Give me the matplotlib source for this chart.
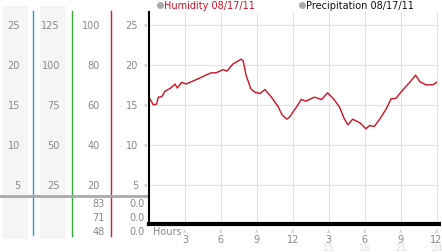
import matplotlib
matplotlib.use('agg')
import matplotlib.pyplot as plt
import matplotlib.transforms as mtransforms
import numpy as np

# humidity trace, hours since midnight vs value on the 0-25 scale
hours = [0.0, 0.08, 0.36, 0.64, 0.78, 1.06, 1.33, 1.6, 1.9, 2.17, 2.36, 2.72, 3.1, 3.55,
         4.1, 4.8, 5.2, 5.6, 6.2, 6.5, 7.0, 7.7, 7.86, 8.1, 8.5, 8.8, 9.25, 9.67, 10.2,
         10.8, 11.1, 11.5, 11.75, 12.1, 12.3, 12.7, 13.1, 13.8, 14.4, 14.9, 15.4, 15.9,
         16.3, 16.6, 17.0, 17.6, 18.1, 18.4, 18.8, 19.25, 19.8, 20.2, 20.6, 21.2, 21.75,
         22.25, 22.6, 23.1, 23.7, 24.0]
humidity = [15.5, 15.75, 15.0, 15.1, 15.96, 16.0, 16.7, 16.9, 17.2, 17.6, 17.1, 17.8, 17.6,
            17.9, 18.25, 18.75, 19.0, 19.0, 19.4, 19.2, 20.1, 20.7, 20.5, 18.7, 17.0, 16.6,
            16.4, 16.9, 16.0, 14.7, 13.75, 13.2, 13.5, 14.3, 14.7, 15.66, 15.46, 15.96,
            15.66, 16.5, 15.75, 14.7, 13.25, 12.5, 13.2, 12.75, 12.0, 12.4, 12.3, 13.2,
            14.5, 15.75, 15.8, 16.9, 17.8, 18.7, 17.9, 17.5, 17.5, 17.8]

yticks = [5, 10, 15, 20, 25]
col1 = ['5', '10', '15', '20', '25']
col2 = ['25', '50', '75', '100', '125']
col3 = ['20', '40', '60', '80', '100']
col4 = ['5', '10', '15', '20', '25']
xticks = [3, 6, 9, 12, 15, 18, 21, 24]
xlabels = ['3', '6', '9', '12', '3', '6', '9', '12']
xlabels2 = ['', '', '', '', '15', '18', '21', '24']
low_vals = ['83', '71', '48']
low_precip = ['0.0', '0.0', '0.0']

W, H = 442, 253
fig = plt.figure(figsize=(W / 100, H / 100), dpi=100)
fig.patch.set_facecolor('white')

# background pixel axes for the left panel
bg = fig.add_axes([0, 0, 1, 1])
bg.set_xlim(0, W)
bg.set_ylim(H, 0)
bg.axis('off')

ax = fig.add_axes([149 / W, 1 - 225 / H, 290 / W, 212 / H])
ax.set_xlim(0, 24.2)
ax.set_ylim(0.1, 26.6)
ax.set_facecolor('white')
for s in ['top', 'right']:
    ax.spines[s].set_visible(False)
ax.spines['left'].set_linewidth(1.5)
ax.spines['bottom'].set_linewidth(3)
ax.set_xticks(xticks)
ax.set_yticks(yticks)
ax.tick_params(length=0, labelleft=False, labelbottom=False)
ax.grid(True, color='#e2e2e2', linewidth=0.8)
ax.set_axisbelow(True)

ax.plot(hours, humidity, color='#cc1122', linewidth=1.0)

# column shading and coloured divider lines
bg.add_patch(plt.Rectangle((2, 7), 26, 233, color='#f5f5f5', lw=0))
bg.add_patch(plt.Rectangle((40, 7), 26, 233, color='#f5f5f5', lw=0))
bg.plot([33, 33], [12, 236], color='#3399cc', lw=1)
bg.plot([72, 72], [12, 237], color='#33aa33', lw=1)
bg.plot([111, 111], [12, 237], color='#cc2222', lw=1)
bg.plot([0, 149], [197, 197], color='#aaaaaa', lw=2)

trans = mtransforms.blended_transform_factory(bg.transData, ax.transData)
fs = 7
grey = '#888888'
for i, v in enumerate(yticks):
    bg.text(20, v, col1[i], transform=trans, ha='right', va='center', fontsize=fs, color=grey)
    bg.text(60, v, col2[i], transform=trans, ha='right', va='center', fontsize=fs, color=grey)
    bg.text(100, v, col3[i], transform=trans, ha='right', va='center', fontsize=fs, color=grey)
    bg.text(138, v, col4[i], transform=trans, ha='right', va='center', fontsize=fs, color=grey)
    bg.text(145, v, 'x', transform=trans, ha='center', va='center', fontsize=4, color='#aaaaaa')

for i in range(len(low_vals)):
    y = 204 + 14 * i
    bg.text(105, y, low_vals[i], ha='right', va='center', fontsize=fs, color=grey)
    bg.text(145, y, low_precip[i], ha='right', va='center', fontsize=fs, color=grey)

# x labels
xtrans = mtransforms.blended_transform_factory(ax.transData, bg.transData)
bg.text(153, 232, 'Hours', ha='left', va='center', fontsize=fs, color=grey)
for i, h in enumerate(xticks):
    bg.text(h, 232, 'x', transform=xtrans, ha='center', va='center', fontsize=4, color='#aaaaaa')
    bg.text(h, 240, xlabels[i], transform=xtrans, ha='center', va='center', fontsize=fs, color=grey)
    bg.text(h, 249, xlabels2[i], transform=xtrans, ha='center', va='center', fontsize=6.5, color='#dddddd')

# legend
bg.plot([160], [6], 'o', color='#aaaaaa', markersize=4)
bg.text(164, 6, 'Humidity 08/17/11', ha='left', va='center', fontsize=fs, color='#cc1122')
bg.plot([302], [6], 'o', color='#aaaaaa', markersize=4)
bg.text(306, 6, 'Precipitation 08/17/11', ha='left', va='center', fontsize=fs, color='#111111')

fig.savefig('out.png', dpi=100)
